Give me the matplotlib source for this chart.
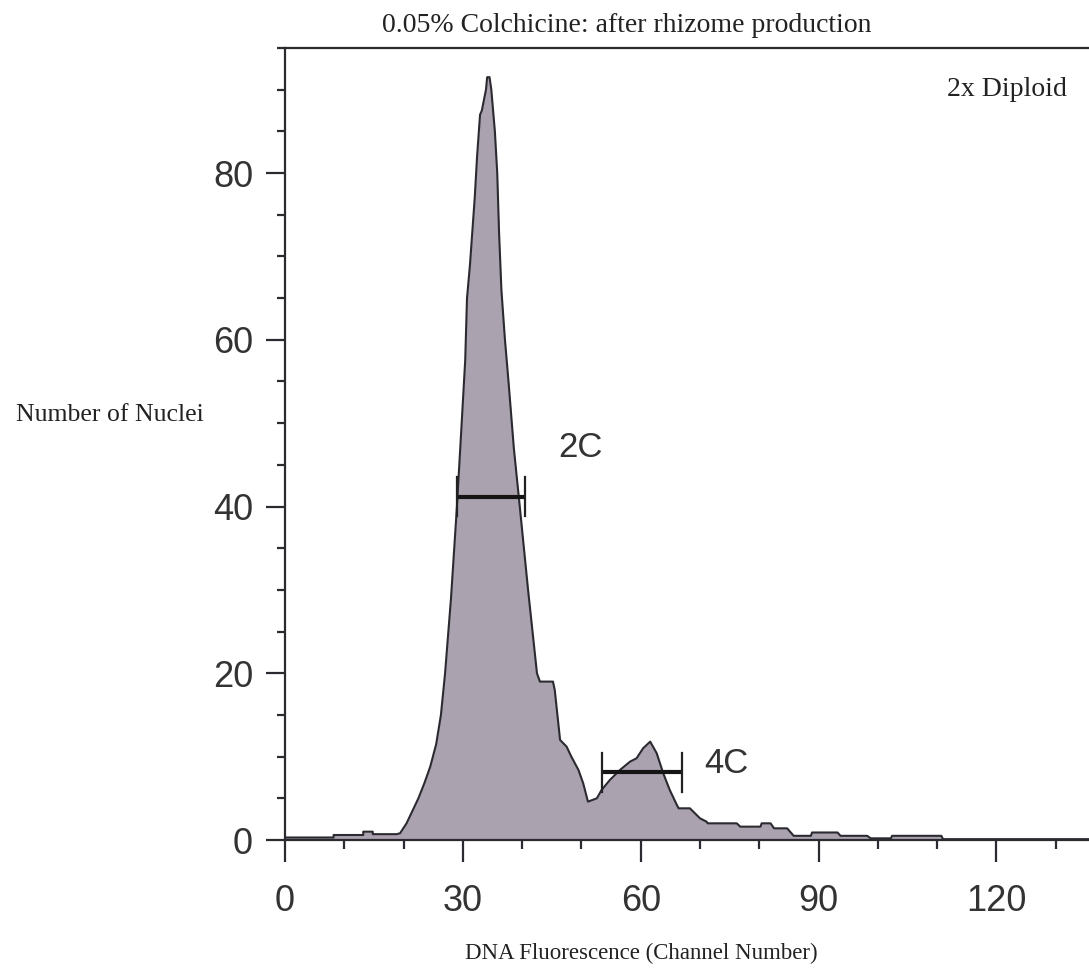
import matplotlib
matplotlib.use("Agg")
import matplotlib.pyplot as plt
import numpy as np

# histogram outline (channel, count)
outline_x = [0, 8.2, 8.2, 13.2, 13.2, 14.8, 14.8, 18.8, 19.4, 20.5, 21.5, 22.5,
             23.5, 24.5, 25.5, 26.3, 27, 28, 29, 29.8, 30.4, 30.7, 31.2, 31.6,
             32.0, 32.4, 32.9, 33.2, 33.9, 34.1, 34.5, 34.8, 35.4, 35.8, 36.1,
             36.5, 37.1, 37.7, 38.6, 39.6, 41, 42.5, 43, 45.2, 45.5, 46.4, 47.5,
             48.3, 49.5, 50.3, 51.1, 52.6, 53.4, 54.8, 56.5, 58.2, 59.3, 60.4,
             61.6, 62.7, 63.8, 64.9, 66.1, 66.4, 68.3, 70, 71.1, 71.3, 76.2,
             76.8, 80.2, 80.4, 81.9, 82.5, 84.7, 85.8, 88.7, 88.9, 93.2, 93.7,
             98.2, 98.8, 102.2, 102.4, 110.7, 111, 140]
outline_y = [0.3, 0.3, 0.6, 0.6, 1.0, 1.0, 0.7, 0.7, 0.8, 2.0, 3.5, 5.0,
             6.8, 8.8, 11.5, 15, 20, 29, 40, 50, 57.6, 65, 69, 73,
             77, 82, 87, 87.5, 90, 91.5, 91.5, 90, 85, 80, 73,
             66, 60, 55, 47, 40, 30, 20, 19, 19, 18, 12, 11.2,
             10, 8.4, 6.8, 4.6, 5.0, 6.0, 7.2, 8.4, 9.4, 9.8, 11.0,
             11.8, 10.4, 8.0, 6.0, 4.2, 3.8, 3.8, 2.6, 2.2, 2.0, 2.0,
             1.6, 1.6, 2.0, 2.0, 1.4, 1.4, 0.5, 0.5, 0.9, 0.9, 0.5,
             0.5, 0.2, 0.2, 0.5, 0.5, 0.1, 0.1]

# gates (markers) on the histogram
gate_names = ["2C", "4C"]
gate_lo = [29.0, 53.4]
gate_hi = [40.5, 66.9]
gate_y = [41.2, 8.1]
label_x = [49.8, 74.4]
label_y = [47.1, 9.2]

x_ticks = [0, 30, 60, 90, 120]
y_ticks = [0, 20, 40, 60, 80]

dark = "#2b2a30"
sans = "Liberation Sans"
serif = "Liberation Serif"

fig = plt.figure(figsize=(10.89, 9.8), dpi=100)
ax = fig.add_axes([285 / 1089, 140 / 980, 830 / 1089, 792 / 980])

ax.fill_between(outline_x, outline_y, 0, color="#aba2af", lw=0)
ax.plot(outline_x, outline_y, color=dark, lw=1.5)

for lo, hi, y, name, lx, ly in zip(gate_lo, gate_hi, gate_y, gate_names, label_x, label_y):
    ax.plot([lo, hi], [y, y], color="#151515", lw=3, solid_capstyle="butt")
    ax.plot([lo, lo], [y - 2.3, y + 2.3], color="#222222", lw=1.6)
    ax.plot([hi, hi], [y - 2.3, y + 2.3], color="#222222", lw=1.6)
    ax.text(lx, ly, name, fontsize=25, family=sans, color="#333333",
            ha="center", va="center")

ax.set_xlim(0, 140)
ax.set_ylim(0, 95)
ax.spines["right"].set_visible(False)
for s in ["left", "top", "bottom"]:
    ax.spines[s].set_linewidth(1.6)
    ax.spines[s].set_color(dark)

ax.set_xticks(x_ticks)
ax.set_xticks(np.arange(0, 141, 10), minor=True)
ax.set_yticks(y_ticks)
ax.set_yticks(np.arange(0, 96, 5), minor=True)
ax.tick_params(axis="x", which="major", length=16, width=1.6, pad=16, color=dark)
ax.tick_params(axis="x", which="minor", length=6.5, width=1.6, color=dark)
ax.tick_params(axis="y", which="major", length=14, width=1.6, pad=9, color=dark)
ax.tick_params(axis="y", which="minor", length=6, width=1.6, color=dark)
for lab in ax.get_xticklabels() + ax.get_yticklabels():
    lab.set_fontfamily(sans)
    lab.set_fontsize(26)
    lab.set_color("#333333")

fig.text(627 / 1089, 1 - 25 / 980, "0.05% Colchicine: after rhizome production",
         family=serif, fontsize=20, ha="center", va="center", color="#222222")
fig.text(1007 / 1089, 1 - 90 / 980, "2x Diploid", family=serif, fontsize=20,
         ha="center", va="center", color="#222222")
fig.text(110 / 1089, 1 - 415 / 980, "Number of Nuclei", family=serif, fontsize=18.5,
         ha="center", va="center", color="#222222")
fig.text(641 / 1089, 1 - 953 / 980, "DNA Fluorescence (Channel Number)", family=serif,
         fontsize=16.5, ha="center", va="center", color="#222222")

fig.savefig("out.png", dpi=100)
